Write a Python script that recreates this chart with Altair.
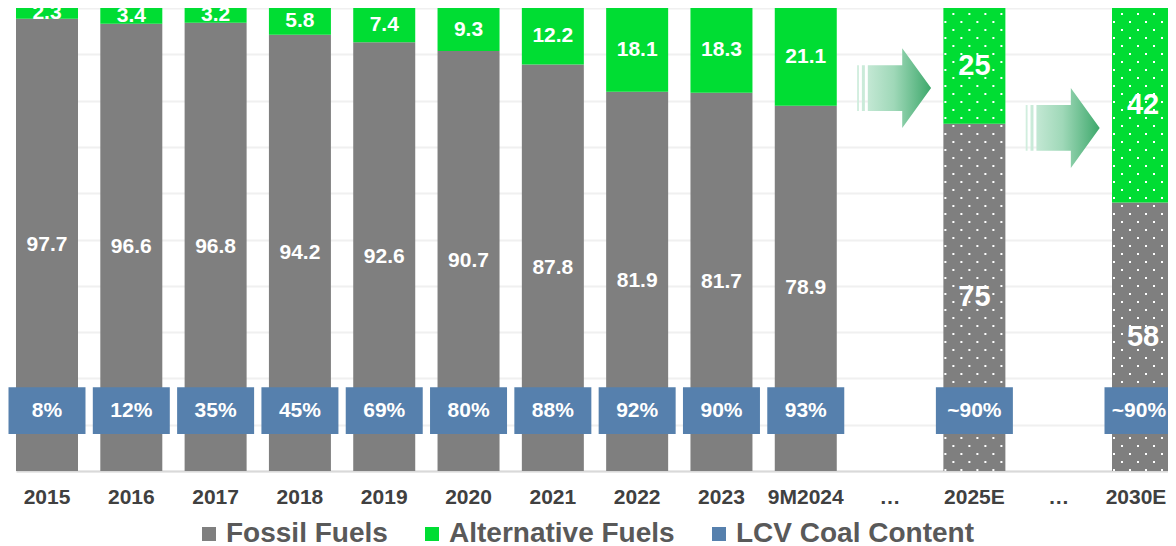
import altair as alt
import pandas as pd

# ---------------- data ----------------
categories = ["2015", "2016", "2017", "2018", "2019", "2020", "2021", "2022",
              "2023", "9M2024", "…", "2025E", "… ", "2030E"]
fossil = [97.7, 96.6, 96.8, 94.2, 92.6, 90.7, 87.8, 81.9, 81.7, 78.9, None, 75, None, 58]
alternative = [2.3, 3.4, 3.2, 5.8, 7.4, 9.3, 12.2, 18.1, 18.3, 21.1, None, 25, None, 42]
lcv_labels = ["8%", "12%", "35%", "45%", "69%", "80%", "88%", "92%", "90%", "93%",
              None, "~90%", None, "~90%"]
projected = ["2025E", "2030E"]
series = ["Fossil Fuels", "Alternative Fuels", "LCV Coal Content"]

# ---------------- tables built from the lists ----------------
rows = []
for c, f, a in zip(categories, fossil, alternative):
    if f is None:
        continue
    rows.append({"category": c, "series": series[0], "value": f, "order": 0,
                 "proj": c in projected})
    rows.append({"category": c, "series": series[1], "value": a, "order": 1,
                 "proj": c in projected})
df = pd.DataFrame(rows)
df_lcv = pd.DataFrame([{"category": c, "label": l}
                       for c, l in zip(categories, lcv_labels) if l is not None])
df_proj = pd.DataFrame({"category": projected})
df_one = pd.DataFrame({"k": [0]})

FONT = "Liberation Sans"
colors = ["#7f7f7f", "#00dd33", "#5680ad"]
last_cat = categories[-1]

x_enc = alt.X(
    "category:N",
    sort=categories,
    scale=alt.Scale(domain=categories, range=[8, 1166], paddingInner=0.2646, paddingOuter=0),
    axis=alt.Axis(title=None, labelFont=FONT, labelFontSize=21, labelFontWeight="bold",
                  labelColor="#404040", ticks=False, domainColor="#d9d9d9", domainWidth=2,
                  labelPadding=15, labelAngle=0, labelExpr="trim(datum.label)", grid=False,
                  labelBound=False,
                  labelOffset={"condition": {"test": f"datum.value == '{last_cat}'", "value": -7},
                               "value": 0}),
)
y_scale = alt.Scale(domain=[0, 100], nice=False, zero=True)
y_axis = alt.Axis(values=list(range(0, 101, 10)), labels=False, ticks=False, domain=False,
                  grid=True, gridColor="#f0f0f0", gridWidth=2, title=None)
color_enc = alt.Color(
    "series:N",
    scale=alt.Scale(domain=series, range=colors),
    legend=alt.Legend(orient="none", legendX=187, legendY=512, direction="horizontal",
                      title=None, symbolType="square", symbolSize=196, symbolStrokeWidth=0,
                      symbolOpacity=1, labelFontSize=28, labelFont=FONT,
                      labelFontWeight="bold", labelColor="#595959", columnPadding=30,
                      labelOffset=3, padding=0, labelLimit=400),
)

base = alt.Chart(df).transform_stack(
    stack="value", groupby=["category"], as_=["y0", "y1"],
    sort=[alt.SortField("order", order="ascending")]
).transform_calculate(mid="(datum.y0 + datum.y1) / 2")

bars = base.mark_bar().encode(
    x=x_enc,
    y=alt.Y("y0:Q", scale=y_scale, axis=y_axis),
    y2="y1:Q",
    color=color_enc,
)

# dotted texture of the projected bars
dots = []
for i in range(8):
    dots.append(
        alt.Chart(df_proj).mark_rule(color="white", strokeWidth=2, strokeDash=[2, 14],
                                     strokeDashOffset=8 if i % 2 else 0,
                                     xOffset=-29 + 8 * i).encode(
            x=alt.X("category:N", sort=categories),
            y=alt.datum(0), y2=alt.datum(100))
    )

labels_hist = base.transform_filter("!datum.proj").mark_text(
    font=FONT, fontSize=21, fontWeight="bold", color="white").encode(
    x=alt.X("category:N", sort=categories), y="mid:Q", text="value:Q")
labels_proj = base.transform_filter("datum.proj").mark_text(
    font=FONT, fontSize=29, fontWeight="bold", color="white").encode(
    x=alt.X("category:N", sort=categories), y="mid:Q", text="value:Q")

boxes = alt.Chart(df_lcv).mark_bar(width=77).encode(
    x=alt.X("category:N", sort=categories),
    y=alt.datum(8), y2=alt.datum(18.1),
    color=alt.datum("LCV Coal Content"),
)
box_text = alt.Chart(df_lcv).transform_filter(f"datum.category != '{last_cat}'").mark_text(
    font=FONT, fontSize=21, fontWeight="bold", color="white").encode(
    x=alt.X("category:N", sort=categories), y=alt.datum(13.05), text="label:N")
box_text_last = alt.Chart(df_lcv).transform_filter(f"datum.category == '{last_cat}'").mark_text(
    font=FONT, fontSize=21, fontWeight="bold", color="white", dx=-4).encode(
    x=alt.X("category:N", sort=categories), y=alt.datum(13.05), text="label:N")

arrow_path = ("M-1,-0.62 L-0.95,-0.62 L-0.95,0.62 L-1,0.62 Z "
              "M-0.87,-0.62 L-0.79,-0.62 L-0.79,0.62 L-0.87,0.62 Z "
              "M-0.71,-0.62 L0.22,-0.62 L0.22,-1.08 L1,0 L0.22,1.08 L0.22,0.62 L-0.71,0.62 Z")
grad = alt.Gradient(gradient="linear", x1=0, x2=1, y1=0, y2=0,
                    stops=[alt.GradientStop(color="#d2eedf", offset=0),
                           alt.GradientStop(color="#9fd8b8", offset=0.5),
                           alt.GradientStop(color="#3da86b", offset=1)])
arrows = []
for cat, lvl in [("…", 82.7), ("… ", 74.1)]:
    arrows.append(
        alt.Chart(df_one).mark_point(shape=arrow_path, size=5476, filled=True, fill=grad,
                                     opacity=1, strokeWidth=0, xOffset=4).encode(
            x=alt.datum(cat), y=alt.datum(lvl))
    )

chart = alt.layer(bars, *dots, labels_hist, labels_proj, boxes, box_text, box_text_last,
                  *arrows).properties(
    width=1160, height=463,
    autosize=alt.AutoSizeParams(type="none"),
    padding={"left": 0, "top": 0, "right": 0, "bottom": 75},
).configure_view(stroke=None)

chart.save("out.html", embed_options={"renderer": "svg", "actions": False})
